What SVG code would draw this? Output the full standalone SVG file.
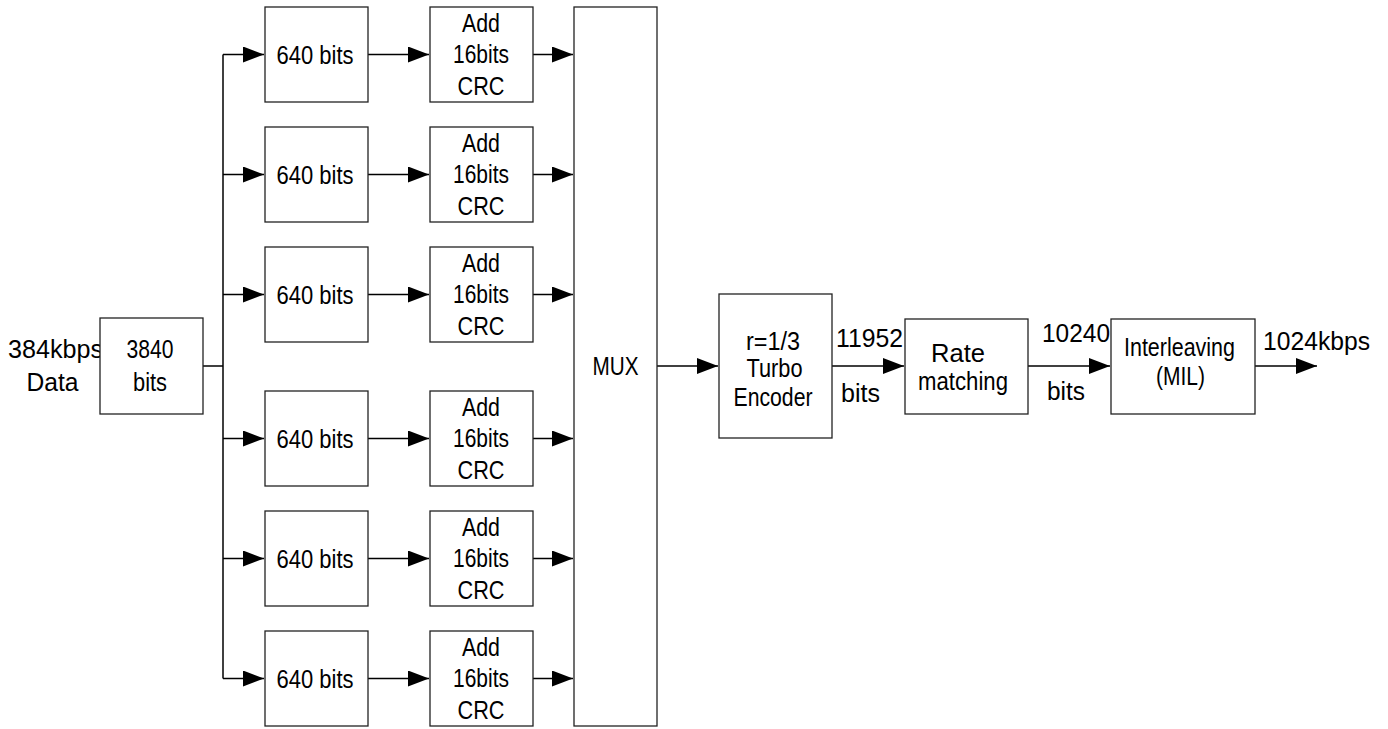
<svg xmlns="http://www.w3.org/2000/svg" width="1388" height="729" viewBox="0 0 1388 729">
<style>
  .box { fill: #ffffff; stroke: #222222; stroke-width: 1.3; }
  .ln { fill: none; stroke: #000000; stroke-width: 1.5; }
  .t { font-family: "Liberation Sans", Arial, sans-serif; font-size: 25px; fill: #000000; }
  .c { text-anchor: middle; }
</style>
<defs>
  <marker id="ah" markerUnits="userSpaceOnUse" markerWidth="22" markerHeight="16" refX="21" refY="8" orient="auto">
    <path d="M0,0 L21,8 L0,16 Z" fill="#000000"/>
  </marker>
</defs>
<rect width="1388" height="729" fill="#ffffff"/>

<g id="connectors">
  <path class="ln" d="M203,366 H223"/>
  <path class="ln" d="M223,54.5 V678.5"/>
  <path class="ln" marker-end="url(#ah)" d="M223,54.5 H264"/>
  <path class="ln" marker-end="url(#ah)" d="M223,174.5 H264"/>
  <path class="ln" marker-end="url(#ah)" d="M223,294.5 H264"/>
  <path class="ln" marker-end="url(#ah)" d="M223,438.5 H264"/>
  <path class="ln" marker-end="url(#ah)" d="M223,558.5 H264"/>
  <path class="ln" marker-end="url(#ah)" d="M223,678.5 H264"/>
  <path class="ln" marker-end="url(#ah)" d="M368,54.5 H429"/>
  <path class="ln" marker-end="url(#ah)" d="M368,174.5 H429"/>
  <path class="ln" marker-end="url(#ah)" d="M368,294.5 H429"/>
  <path class="ln" marker-end="url(#ah)" d="M368,438.5 H429"/>
  <path class="ln" marker-end="url(#ah)" d="M368,558.5 H429"/>
  <path class="ln" marker-end="url(#ah)" d="M368,678.5 H429"/>
  <path class="ln" marker-end="url(#ah)" d="M533,54.5 H573"/>
  <path class="ln" marker-end="url(#ah)" d="M533,174.5 H573"/>
  <path class="ln" marker-end="url(#ah)" d="M533,294.5 H573"/>
  <path class="ln" marker-end="url(#ah)" d="M533,438.5 H573"/>
  <path class="ln" marker-end="url(#ah)" d="M533,558.5 H573"/>
  <path class="ln" marker-end="url(#ah)" d="M533,678.5 H573"/>
  <path class="ln" marker-end="url(#ah)" d="M657,366 H718"/>
  <path class="ln" marker-end="url(#ah)" d="M832,366 H904"/>
  <path class="ln" marker-end="url(#ah)" d="M1028,366 H1110"/>
  <path class="ln" marker-end="url(#ah)" d="M1255,366 H1317"/>
</g>

<g id="labels">
  <text class="t" x="8" y="358" textLength="95" lengthAdjust="spacingAndGlyphs">384kbps</text>
  <text class="t c" x="52.5" y="391" textLength="52" lengthAdjust="spacingAndGlyphs">Data</text>
  <text class="t" x="836" y="347" textLength="67" lengthAdjust="spacingAndGlyphs">11952</text>
  <text class="t" x="841" y="402" textLength="39" lengthAdjust="spacingAndGlyphs">bits</text>
  <text class="t" x="1042" y="342" textLength="68" lengthAdjust="spacingAndGlyphs">10240</text>
  <text class="t" x="1047" y="400" textLength="38" lengthAdjust="spacingAndGlyphs">bits</text>
  <text class="t" x="1263" y="350" textLength="107" lengthAdjust="spacingAndGlyphs">1024kbps</text>
</g>

<g id="src">
  <rect class="box" x="100" y="318" width="103" height="96"/>
  <text class="t c" x="150" y="358" textLength="47" lengthAdjust="spacingAndGlyphs">3840</text>
  <text class="t c" x="150" y="391" textLength="34" lengthAdjust="spacingAndGlyphs">bits</text>
</g>

<g id="seg1"><rect class="box" x="265" y="7" width="103" height="95"/><text class="t c" x="315" y="63.5" textLength="77" lengthAdjust="spacingAndGlyphs">640 bits</text></g>
<g id="seg2"><rect class="box" x="265" y="127" width="103" height="95"/><text class="t c" x="315" y="183.5" textLength="77" lengthAdjust="spacingAndGlyphs">640 bits</text></g>
<g id="seg3"><rect class="box" x="265" y="247" width="103" height="95"/><text class="t c" x="315" y="303.5" textLength="77" lengthAdjust="spacingAndGlyphs">640 bits</text></g>
<g id="seg4"><rect class="box" x="265" y="391" width="103" height="95"/><text class="t c" x="315" y="447.5" textLength="77" lengthAdjust="spacingAndGlyphs">640 bits</text></g>
<g id="seg5"><rect class="box" x="265" y="511" width="103" height="95"/><text class="t c" x="315" y="567.5" textLength="77" lengthAdjust="spacingAndGlyphs">640 bits</text></g>
<g id="seg6"><rect class="box" x="265" y="631" width="103" height="95"/><text class="t c" x="315" y="687.5" textLength="77" lengthAdjust="spacingAndGlyphs">640 bits</text></g>

<g id="crc1"><rect class="box" x="430" y="7" width="103" height="95"/>
  <text class="t c" x="481" y="31.7" textLength="38" lengthAdjust="spacingAndGlyphs">Add</text>
  <text class="t c" x="481" y="63.3" textLength="56" lengthAdjust="spacingAndGlyphs">16bits</text>
  <text class="t c" x="481" y="94.5" textLength="47" lengthAdjust="spacingAndGlyphs">CRC</text></g>
<g id="crc2"><rect class="box" x="430" y="127" width="103" height="95"/>
  <text class="t c" x="481" y="151.7" textLength="38" lengthAdjust="spacingAndGlyphs">Add</text>
  <text class="t c" x="481" y="183.3" textLength="56" lengthAdjust="spacingAndGlyphs">16bits</text>
  <text class="t c" x="481" y="214.5" textLength="47" lengthAdjust="spacingAndGlyphs">CRC</text></g>
<g id="crc3"><rect class="box" x="430" y="247" width="103" height="95"/>
  <text class="t c" x="481" y="271.7" textLength="38" lengthAdjust="spacingAndGlyphs">Add</text>
  <text class="t c" x="481" y="303.3" textLength="56" lengthAdjust="spacingAndGlyphs">16bits</text>
  <text class="t c" x="481" y="334.5" textLength="47" lengthAdjust="spacingAndGlyphs">CRC</text></g>
<g id="crc4"><rect class="box" x="430" y="391" width="103" height="95"/>
  <text class="t c" x="481" y="415.7" textLength="38" lengthAdjust="spacingAndGlyphs">Add</text>
  <text class="t c" x="481" y="447.3" textLength="56" lengthAdjust="spacingAndGlyphs">16bits</text>
  <text class="t c" x="481" y="478.5" textLength="47" lengthAdjust="spacingAndGlyphs">CRC</text></g>
<g id="crc5"><rect class="box" x="430" y="511" width="103" height="95"/>
  <text class="t c" x="481" y="535.7" textLength="38" lengthAdjust="spacingAndGlyphs">Add</text>
  <text class="t c" x="481" y="567.3" textLength="56" lengthAdjust="spacingAndGlyphs">16bits</text>
  <text class="t c" x="481" y="598.5" textLength="47" lengthAdjust="spacingAndGlyphs">CRC</text></g>
<g id="crc6"><rect class="box" x="430" y="631" width="103" height="95"/>
  <text class="t c" x="481" y="655.7" textLength="38" lengthAdjust="spacingAndGlyphs">Add</text>
  <text class="t c" x="481" y="687.3" textLength="56" lengthAdjust="spacingAndGlyphs">16bits</text>
  <text class="t c" x="481" y="718.5" textLength="47" lengthAdjust="spacingAndGlyphs">CRC</text></g>

<g id="mux"><rect class="box" x="574" y="7" width="83" height="719"/>
  <text class="t c" x="615.5" y="375" textLength="46" lengthAdjust="spacingAndGlyphs">MUX</text></g>

<g id="turbo"><rect class="box" x="719" y="294" width="113" height="144"/>
  <text class="t c" x="773" y="350" textLength="54" lengthAdjust="spacingAndGlyphs">r=1/3</text>
  <text class="t c" x="774.5" y="377" textLength="56" lengthAdjust="spacingAndGlyphs">Turbo</text>
  <text class="t c" x="773" y="406" textLength="79" lengthAdjust="spacingAndGlyphs">Encoder</text></g>

<g id="rate"><rect class="box" x="905" y="319" width="123" height="95"/>
  <text class="t c" x="958" y="362" textLength="54" lengthAdjust="spacingAndGlyphs">Rate</text>
  <text class="t c" x="963" y="390" textLength="90" lengthAdjust="spacingAndGlyphs">matching</text></g>

<g id="interleave"><rect class="box" x="1111" y="319" width="144" height="95"/>
  <text class="t c" x="1179.5" y="356" textLength="111" lengthAdjust="spacingAndGlyphs">Interleaving</text>
  <text class="t c" x="1180.5" y="385" textLength="49" lengthAdjust="spacingAndGlyphs">(MIL)</text></g>
</svg>
